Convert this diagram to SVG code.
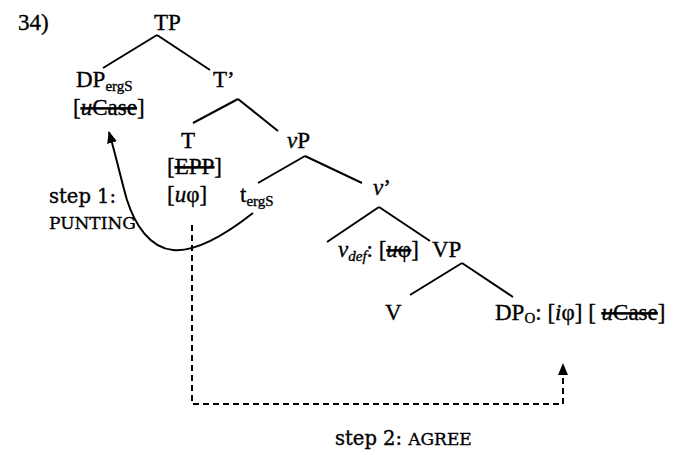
<svg xmlns="http://www.w3.org/2000/svg" width="698" height="455" viewBox="0 0 698 455">
<defs>
<style>
text{font-family:"Liberation Serif","Times New Roman",serif;fill:#000;stroke:#000;stroke-width:0.35;font-size:23px}
.sub{font-size:15px}
.it{font-style:italic}
.st{text-decoration:line-through}
.lbl{font-family:"DejaVu Serif","Liberation Serif",serif;font-size:19.5px}
.sc{font-family:"DejaVu Serif","Liberation Serif",serif;font-size:17px}
.edge{stroke:#000;stroke-width:2;fill:none}
.dash{stroke:#000;stroke-width:2;fill:none;stroke-dasharray:6 4}
</style>
<marker id="ah" viewBox="0 0 12 10" refX="11" refY="5" markerWidth="12" markerHeight="10" markerUnits="userSpaceOnUse" orient="auto">
<path d="M0,0 L12,5 L0,10 z" fill="#000"/>
</marker>
</defs>
<rect width="698" height="455" fill="#fff"/>
<text x="18" y="30">34)</text>
<g id="connectors">
<path class="edge" d="M157,35 L103,68 M157,35 L210,70"/>
<path class="edge" d="M238,99 L193,123 M238,99 L278,131"/>
<path class="edge" d="M305,156 L258,183 M305,156 L362,183"/>
<path class="edge" d="M379,207 L327,242 M379,207 L430,241"/>
<path class="edge" d="M462,263 L410,295 M462,263 L513,297"/>
<path class="edge" marker-end="url(#ah)" d="M253,213 C225,235 195,252 173,250 C150,248 135,225 127,200 C122,183 117,160 109,132"/>
<path class="dash" marker-end="url(#ah)" d="M192,225 V404 H563 V364"/>
</g>
<g id="n-TP"><text x="154" y="30">TP</text></g>
<g id="n-DPergS"><text x="76" y="87">DP<tspan class="sub" dy="4">ergS</tspan></text><text x="73" y="115">[<tspan class="st"><tspan class="it">u</tspan>Case</tspan>]</text></g>
<g id="n-Tbar"><text x="213" y="87">T’</text></g>
<g id="n-T"><text x="181" y="148">T</text><text x="167" y="174">[<tspan class="st">EPP</tspan>]</text><text x="167" y="202">[<tspan class="it">u</tspan>φ]</text></g>
<g id="n-vP"><text x="287" y="148"><tspan class="it">v</tspan>P</text></g>
<g id="n-tergS"><text x="240" y="202">t<tspan class="sub" dy="4">ergS</tspan></text></g>
<g id="n-vbar"><text x="373" y="195"><tspan class="it">v</tspan>’</text></g>
<g id="n-vdef"><text x="338" y="257"><tspan class="it">v</tspan><tspan class="sub it" dy="4">def</tspan><tspan dy="-4">: [</tspan><tspan class="st"><tspan class="it">u</tspan>φ</tspan>]</text></g>
<g id="n-VP"><text x="432" y="257">VP</text></g>
<g id="n-V"><text x="385" y="320">V</text></g>
<g id="n-DPO"><text x="495" y="320">DP<tspan class="sub" dy="3">O</tspan><tspan dy="-3">: [</tspan><tspan class="it">i</tspan>φ] [ <tspan class="st"><tspan class="it">u</tspan>Case</tspan>]</text></g>
<g id="labels">
<text class="lbl" x="49" y="203">step 1:</text>
<text class="sc" x="49" y="229">PUNTING</text>
<text x="335" y="445"><tspan class="lbl">step 2: </tspan><tspan class="sc">AGREE</tspan></text>
</g>
</svg>
